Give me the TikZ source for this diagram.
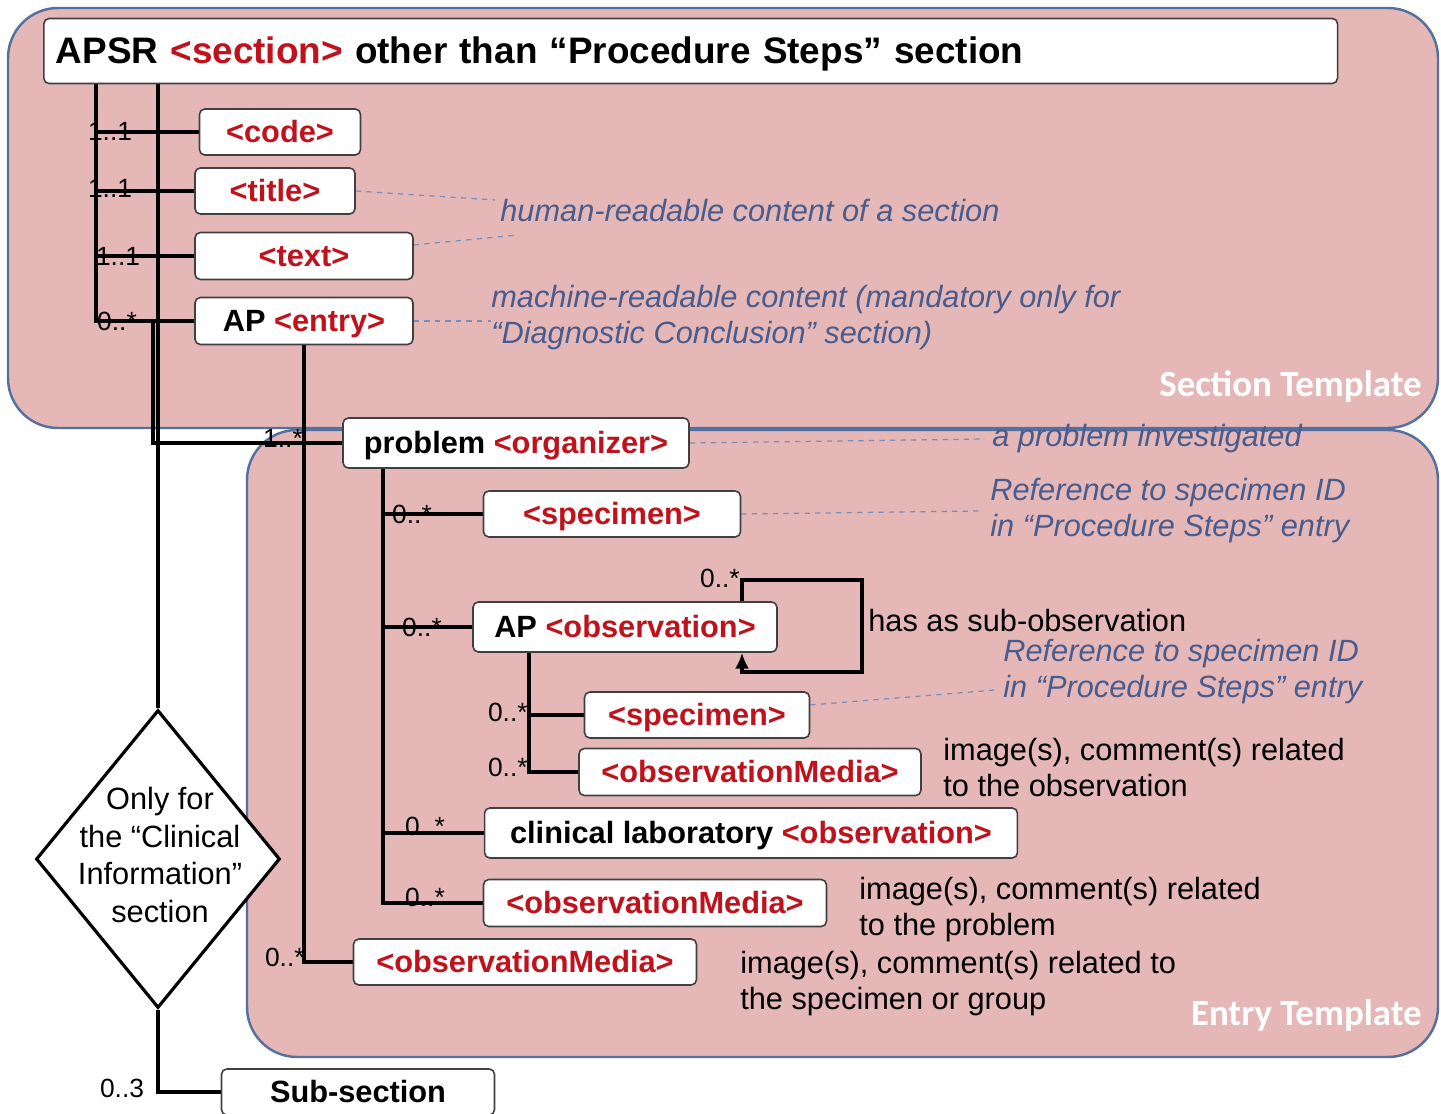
\documentclass[tikz,border=0pt]{standalone}
\usepackage{fontspec}
\setmainfont{Liberation Sans}
\newfontfamily\tplfont{Carlito}
\usetikzlibrary{positioning, arrows.meta, shapes.geometric, calc}
\pgfdeclarelayer{panels}
\pgfdeclarelayer{background}
\pgfsetlayers{panels,background,main}
\definecolor{tagred}{RGB}{192,18,28}
\definecolor{notetext}{RGB}{72,92,142}
\definecolor{panelfill}{RGB}{229,183,183}
\definecolor{panelline}{RGB}{84,112,160}
\definecolor{guideline}{RGB}{125,140,185}
\newcommand{\Tag}[1]{\textcolor{tagred}{#1}}
\tikzset{
    elem/.style={draw=black!75, fill=white, rounded corners=3pt, line width=0.9pt,
      font=\bfseries\fontsize{17.5}{20}\selectfont, inner sep=0pt, text height=12.6pt, text depth=0.8pt},
    link/.style={line width=2.4pt},
    guide/.style={draw=guideline, dashed, line width=0.7pt},
    card/.style={font=\fontsize{15}{17}\selectfont, inner sep=0pt},
    note/.style={text=notetext, font=\itshape\fontsize{17.5}{20.5}\selectfont, align=left, inner sep=0pt},
    remark/.style={font=\fontsize{17.5}{20.5}\selectfont, align=left, inner sep=0pt},
    panel/.style={draw=panelline, fill=panelfill, line width=1.4pt, rounded corners=1cm},
    tpl/.style={text=white, font=\tplfont\bfseries\fontsize{21}{24}\selectfont, inner sep=0pt},
}

\begin{document}
\begin{tikzpicture}[x=0.02cm, y=-0.02cm]
    \useasboundingbox (0,0) rectangle (1441,1114);

    \begin{pgfonlayer}{panels}
      \draw[panel] (8,8) rectangle (1438,428);
      \draw[panel] (247,430) rectangle (1438,1057);
    \end{pgfonlayer}
    \node[tpl, anchor=east] (sectpl) at (1422,386) {Section Template};
    \node[tpl, anchor=east] (entrytpl) at (1422,1015) {Entry Template};

    % section level
    \node[elem, anchor=west, minimum height=1.3cm, text width=25.4cm, inner xsep=0.24cm, align=left,
      text height=15pt, text depth=1pt, font=\bfseries\fontsize{21}{24}\selectfont] (apsr) at (43,51)
      {APSR \Tag{<section>} other than “Procedure Steps” section};
    \node[elem, minimum width=3.22cm, minimum height=0.92cm] (code) at (280,132) {\Tag{<code>}};
    \node[elem, minimum width=3.2cm, minimum height=0.92cm] (ttl) at (275,191) {\Tag{<title>}};
    \node[elem, minimum width=4.36cm, minimum height=0.94cm] (txt) at (304,256) {\Tag{<text>}};
    \node[elem, minimum width=4.36cm, minimum height=0.94cm] (entry) at (304,321) {AP \Tag{<entry>}};

    % entry level
    \node[elem, minimum width=6.92cm, minimum height=1cm] (organizer) at (516,443) {problem \Tag{<organizer>}};
    \node[elem, minimum width=5.14cm, minimum height=0.92cm] (spec1) at (612,514) {\Tag{<specimen>}};
    \node[elem, minimum width=6.08cm, minimum height=1cm] (apobs) at (625,627) {AP \Tag{<observation>}};
    \node[elem, minimum width=4.5cm, minimum height=0.92cm] (spec2) at (697,715) {\Tag{<specimen>}};
    \node[elem, minimum width=6.84cm, minimum height=0.94cm] (media1) at (750,772) {\Tag{<observationMedia>}};
    \node[elem, minimum width=10.66cm, minimum height=1cm] (clinical) at (751,833)
      {clinical laboratory \Tag{<observation>}};
    \node[elem, minimum width=6.86cm, minimum height=0.94cm] (media2) at (655,903) {\Tag{<observationMedia>}};
    \node[elem, minimum width=6.86cm, minimum height=0.92cm] (media3) at (525,962) {\Tag{<observationMedia>}};
    \node[elem, minimum width=5.46cm, minimum height=0.92cm] (subsec) at (358,1092) {Sub-section};

    \node[draw, fill=white, diamond, line width=1.8pt, minimum width=4.88cm, minimum height=5.96cm,
      inner sep=0pt] (only) at (158,859) {};
    \node[align=center, inner sep=0pt, font=\fontsize{17.5}{21.5}\selectfont] (onlytxt) at (160,855)
      {Only for\\the “Clinical\\Information”\\section};

    % cardinalities
    \node[card] (k1) at (110,131) {1..1};
    \node[card] (k2) at (110,188) {1..1};
    \node[card] (k3) at (118,256) {1..1};
    \node[card] (k4) at (117,321) {0..*};
    \node[card] (k5) at (283,438) {1..*};
    \node[card] (k6) at (412,514) {0..*};
    \node[card] (k7) at (422,627) {0..*};
    \node[card] (k8) at (425,826) {0..*};
    \node[card] (k9) at (425,897) {0..*};
    \node[card, anchor=east] (k10) at (528,712) {0..*};
    \node[card, anchor=east] (k11) at (528,767) {0..*};
    \node[card, anchor=east] (k12) at (305,957) {0..*};
    \node[card, anchor=east] (k13) at (740,578) {0..*};
    \node[card] (k14) at (122,1088) {0..3};

    % annotations
    \node[note, anchor=west] (hr) at (500,211) {human-readable content of a section};
    \node[note, anchor=west] (mr) at (491,318)
      {machine-readable content (mandatory only for\\“Diagnostic Conclusion” section)};
    \node[note, anchor=west] (pi) at (992,439) {a problem investigated};
    \node[note, anchor=west] (rs1) at (990,511) {Reference to specimen ID\\in “Procedure Steps” entry};
    \node[note, anchor=west] (rs2) at (1003,672) {Reference to specimen ID\\in “Procedure Steps” entry};
    \node[remark, anchor=west] (subobs) at (868,621) {has as sub-observation};
    \node[remark, anchor=west] (obsrem) at (943,768) {image(s), comment(s) related\\to the observation};
    \node[remark, anchor=west] (probrem) at (859,910) {image(s), comment(s) related\\to the problem};
    \node[remark, anchor=west] (specrem) at (740,984) {image(s), comment(s) related to\\the specimen or group};

    \coordinate (xa) at (96,0);
    \coordinate (xb) at (158,0);
    \coordinate (xc) at (153,0);
    \coordinate (xd) at (383,0);
    \coordinate (xe) at (529,0);
    \coordinate (xf) at (742,0);
    \coordinate (lpa) at (862,580);
    \coordinate (lpb) at (742,672);

    \begin{pgfonlayer}{background}
      \foreach \n in {code, ttl, txt, entry}
        \draw[link] (apsr.south -| xa) |- (\n.west);
      \draw[link] (entry.west -| xc) |- (organizer.west);
      \draw[link] (apsr.south -| xb) -- (only.north);
      \draw[link] (only.south) |- (subsec.west);
      \draw[link] (entry.south) |- (media3.west);
      \foreach \n in {spec1, apobs, clinical, media2}
        \draw[link] (organizer.south -| xd) |- (\n.west);
      \foreach \n in {spec2, media1}
        \draw[link] (apobs.south -| xe) |- (\n.west);
      \draw[link, -{Latex[length=9pt, width=8pt]}] (apobs.north -| xf) |- (lpa) |- (lpb) -- (apobs.south -| xf);

      \draw[guide] (ttl.east) -- ($(hr.west)+(-5,-11)$);
      \draw[guide] ($(txt.east)+(0,-11)$) -- ($(hr.west)+(18,24)$);
      \draw[guide] (entry.east) -- (entry.east -| mr.west);
      \draw[guide] (organizer.east) -- ($(pi.west)+(-7,0)$);
      \draw[guide] (spec1.east) -- ($(rs1.west)+(-10,0)$);
      \draw[guide] ($(spec2.east)+(0,-10)$) -- ($(rs2.west)+(-8,18)$);
    \end{pgfonlayer}
\end{tikzpicture}
\end{document}
